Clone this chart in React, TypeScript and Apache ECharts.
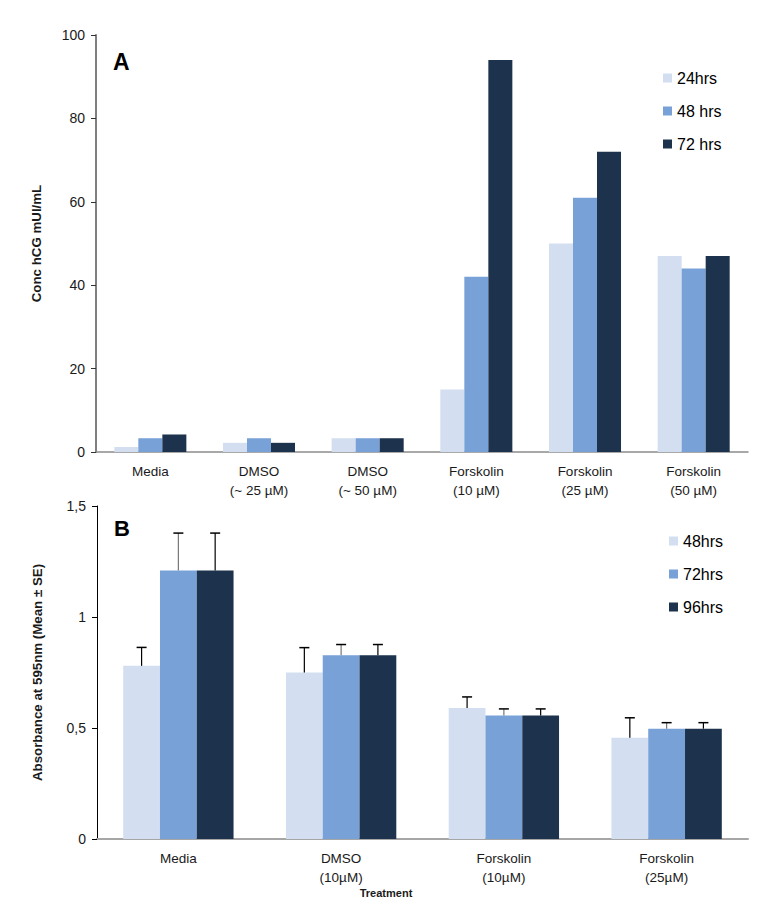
import React, { useEffect, useRef } from "react";
import * as echarts from "echarts";

const catsA = ["Media", "DMSO\n(~ 25 µM)", "DMSO\n(~ 50 µM)", "Forskolin\n(10 µM)", "Forskolin\n(25 µM)", "Forskolin\n(50 µM)"];
const namesA = ["24hrs", "48 hrs", "72 hrs"];
const hcg24 = [1.2, 2.2, 3.3, 15, 50, 47];
const hcg48 = [3.3, 3.3, 3.3, 42, 61, 44];
const hcg72 = [4.2, 2.2, 3.3, 94, 72, 47];
const ticksA = { min: 0, max: 100, interval: 20 };

const catsB = ["Media", "DMSO\n(10µM)", "Forskolin\n(10µM)", "Forskolin\n(25µM)"];
const namesB = ["48hrs", "72hrs", "96hrs"];
const abs48 = [0.78, 0.75, 0.59, 0.456];
const abs72 = [1.21, 0.828, 0.556, 0.497];
const abs96 = [1.21, 0.828, 0.556, 0.497];
const se48 = [0.083, 0.112, 0.05, 0.09];
const se72 = [0.168, 0.048, 0.03, 0.027];
const se96 = [0.168, 0.048, 0.03, 0.027];
const ticksB = { min: 0, max: 1.5, interval: 0.5 };

const COLORS = ["#d3dff0", "#77a1d7", "#1d324d"];
const FONT = '"Liberation Sans", Arial, sans-serif';
const TXT = "#1a1a1a";
const BAR_A = 0.221;
const BAR_B = 0.226;

export default function App() {
  const ref = useRef<HTMLDivElement>(null);
  useEffect(() => {
    if (!ref.current) return;
    const chart = echarts.init(ref.current, null, { renderer: "svg" });

    const barSeries = (name: string, data: number[], idx: number, axis: number, frac: number) => ({
      name,
      type: "bar",
      xAxisIndex: axis,
      yAxisIndex: axis,
      data,
      barWidth: `${frac * 100}%`,
      barGap: "0%",
      itemStyle: { color: COLORS[idx] },
      silent: true,
    });

    const errSeries = (vals: number[], se: number[], idx: number, lineColor: string) => ({
      type: "custom",
      xAxisIndex: 1,
      yAxisIndex: 1,
      z: 5,
      silent: true,
      data: vals.map((v, i) => [i, v, v + se[i]]),
      renderItem: (_p: any, api: any) => {
        const c = api.value(0);
        const bw = api.size([1, 0])[0] * BAR_B;
        const base = api.coord([c, api.value(1)]);
        const top = api.coord([c, api.value(2)]);
        const x = base[0] + (idx - 1) * bw;
        return {
          type: "group",
          children: [
            { type: "line", shape: { x1: x, y1: base[1], x2: x, y2: top[1] }, style: { stroke: lineColor, lineWidth: 1.2 } },
            { type: "line", shape: { x1: x - 5, y1: top[1], x2: x + 5, y2: top[1] }, style: { stroke: "#000", lineWidth: 1.5 } },
          ],
        };
      },
    });

    const catAxis = (grid: number, data: string[], lineColor: string, lineWidth: number) => ({
      type: "category",
      gridIndex: grid,
      data,
      axisLine: { lineStyle: { color: lineColor, width: lineWidth } },
      axisTick: { length: 5, lineStyle: { color: "#8c8c8c" } },
      axisLabel: { fontSize: 13.5, color: TXT, margin: 10, lineHeight: 19, fontFamily: FONT },
    });

    const option: any = {
      animation: false,
      textStyle: { fontFamily: FONT },
      grid: [
        { left: 96, top: 35, width: 652, height: 417 },
        { left: 97, top: 506, width: 651, height: 333 },
      ],
      xAxis: [catAxis(0, catsA, "#8c8c8c", 1.5), catAxis(1, catsB, "#a6a6a6", 2)],
      yAxis: [
        {
          type: "value",
          gridIndex: 0,
          ...ticksA,
          splitLine: { show: false },
          axisLine: { show: true, lineStyle: { color: "#7f7f7f", width: 2 } },
          axisTick: { show: true, length: 5, lineStyle: { color: "#333" } },
          axisLabel: { fontSize: 14, color: TXT, margin: 11, fontFamily: FONT },
          name: "Conc hCG mUI/mL",
          nameLocation: "middle",
          nameGap: 53,
          nameTextStyle: { fontWeight: "bold", fontSize: 13.3, color: TXT, fontFamily: FONT },
        },
        {
          type: "value",
          gridIndex: 1,
          ...ticksB,
          splitLine: { show: false },
          axisLine: { show: true, lineStyle: { color: "#000", width: 1 } },
          axisTick: { show: true, length: 5, lineStyle: { color: "#000" } },
          axisLabel: {
            fontSize: 14,
            color: TXT,
            margin: 11,
            fontFamily: FONT,
            formatter: (v: number) => String(v).replace(".", ","),
          },
          name: "Absorbance at 595nm (Mean ± SE)",
          nameLocation: "middle",
          nameGap: 53,
          nameTextStyle: { fontWeight: "bold", fontSize: 13.3, color: TXT, fontFamily: FONT },
        },
      ],
      legend: [
        {
          data: namesA,
          orient: "vertical",
          left: 658,
          top: 65,
          icon: "rect",
          itemWidth: 9,
          itemHeight: 9,
          itemGap: 17,
          textStyle: { fontSize: 16, color: "#000", lineHeight: 15, fontFamily: FONT },
          selectedMode: false,
        },
        {
          data: namesB,
          orient: "vertical",
          left: 664,
          top: 528,
          icon: "rect",
          itemWidth: 9,
          itemHeight: 9,
          itemGap: 17,
          textStyle: { fontSize: 16, color: "#000", lineHeight: 15, fontFamily: FONT },
          selectedMode: false,
        },
      ],
      graphic: [
        { type: "text", left: 113, top: 50, style: { text: "A", fontSize: 23, fontWeight: "bold", fill: "#000", fontFamily: FONT } },
        { type: "text", left: 114, top: 517, style: { text: "B", fontSize: 22, fontWeight: "bold", fill: "#000", fontFamily: FONT } },
        {
          type: "text",
          x: 386,
          y: 893,
          style: { text: "Treatment", fontSize: 11, fontWeight: "bold", fill: TXT, fontFamily: FONT, align: "center", verticalAlign: "middle" },
        },
      ],
      series: [
        barSeries(namesA[0], hcg24, 0, 0, BAR_A),
        barSeries(namesA[1], hcg48, 1, 0, BAR_A),
        barSeries(namesA[2], hcg72, 2, 0, BAR_A),
        barSeries(namesB[0], abs48, 0, 1, BAR_B),
        barSeries(namesB[1], abs72, 1, 1, BAR_B),
        barSeries(namesB[2], abs96, 2, 1, BAR_B),
        errSeries(abs48, se48, 0, "#000"),
        errSeries(abs72, se72, 1, "#777"),
        errSeries(abs96, se96, 2, "#000"),
      ],
    };
    chart.setOption(option);
    return () => chart.dispose();
  }, []);

  return <div ref={ref} style={{ position: "fixed", left: 0, top: 0, width: 778, height: 916, background: "#fff" }} />;
}
